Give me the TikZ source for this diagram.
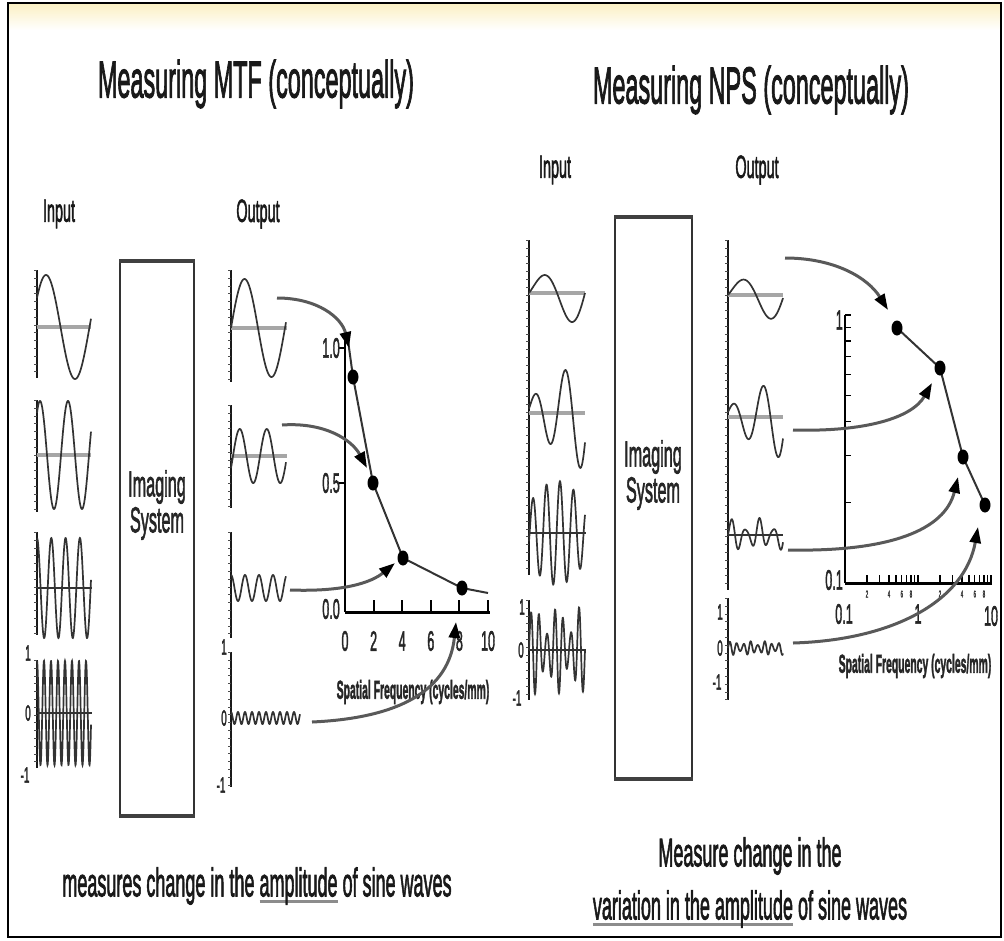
\documentclass[tikz,border=0pt]{standalone}
\usepackage{fontspec}
\setmainfont{Liberation Sans}[FakeBold=2.5]
\usetikzlibrary{arrows.meta,shapes.geometric}
\newcommand{\nar}[2][0.45]{\scalebox{#1}[1]{#2}}
\newsavebox{\ulbox}
\newcommand{\ulg}[1]{\sbox{\ulbox}{#1}\rlap{\textcolor{black!45}{\rule[-7pt]{\wd\ulbox}{3pt}}}\usebox{\ulbox}}
\definecolor{band}{HTML}{FBF0C4}
\tikzset{
  wave/.style={draw=black!80, line width=1.7pt},
  midband/.style={draw=black!35, line width=4pt},
  midline/.style={draw=black!80, line width=1.5pt},
  wax/.style={draw=black!90, line width=1.6pt},
  wtick/.style={draw=black!70, line width=3pt, dash pattern=on 0.8pt off 7pt},
  feed/.style={draw=black!65, line width=3pt, -{Triangle[length=16pt,width=11pt,color=black]}},
  datapt/.style={ellipse, fill=black, inner sep=0pt, minimum width=11pt, minimum height=15pt},
}
\begin{document}
\begin{tikzpicture}[
  x=1pt,y=-1pt,
  head/.style={font=\fontsize{52}{60}\selectfont, text=black!90, inner sep=0pt},
  io/.style={font=\fontsize{32}{36}\selectfont, text=black!90, inner sep=0pt},
  systxt/.style={font=\fontsize{36}{36}\selectfont, text=black!85, align=center, inner sep=0pt},
  note/.style={font=\fontsize{40}{44}\selectfont, text=black!90, inner sep=0pt},
  num/.style={font=\fontsize{28}{30}\selectfont, text=black!85, inner sep=0pt},
  wlab/.style={font=\fontsize{22}{24}\selectfont, text=black!85, inner sep=0pt},
  tinylab/.style={font=\fontsize{10}{11}\selectfont, text=black!80, inner sep=0pt},
  freq/.style={font=\bfseries\fontsize{26}{28}\selectfont, text=black!85, inner sep=0pt},
  sysbox/.style={draw=black!80, line width=1.5pt, inner sep=0pt},
  pax/.style={draw=black, line width=2pt}
]
  \useasboundingbox (0,0) rectangle (1004,940);
  \shade[top color=band, bottom color=white] (9,4) rectangle (1000,30);
  \draw[line width=2.5pt] (8,3) rectangle (1001,937);

  % ---------- MTF side ----------
  \node[head] (mtfhead) at (256,84) {\nar{Measuring MTF (conceptually)}};
  \node[io] (mtfin) at (59,214) {\nar{Input}};
  \node[io] (mtfout) at (258,214) {\nar{Output}};

  % input waves
  \foreach \t/\b in {270/378, 400/512, 532/635, 660/768}{
    \draw[wax] (37,\t) -- (37,\b);
    \draw[wtick] (35,\t) -- (35,\b);
  }
  \draw[midband] (37,327) -- (91,327);
  \draw[midband] (37,455) -- (91,455);
  \draw[midline] (37,588) -- (92,588);
  \draw[midline] (37,713) -- (92,713);
  \draw[wave] plot[domain=0:54, samples=120] ({37+\x},{327-52*sin(6.207*\x+34)});
  \draw[wave] plot[domain=0:54, samples=150] ({37+\x},{455-54*cos(12.857*(\x-3))});
  \draw[wave] plot[domain=0:54, samples=200] ({37+\x},{588-50*cos(25.175*\x)});
  \draw[wave] plot[domain=0:54, samples=300] ({37+\x},{713-52*cos(51.43*\x)});
  \node[wlab] (li1) at (28,653) {\nar{1}};
  \node[wlab] (li0) at (28,713) {\nar{0}};
  \node[wlab] (lim) at (25,775) {\nar{-1}};

  % imaging system
  \node[sysbox, minimum width=74pt, minimum height=553pt] (sysL) at (157,538.5) {};
  \draw[line width=4pt, black!75] (sysL.north west) -- (sysL.north east);
  \draw[line width=4pt, black!75] (sysL.south west) -- (sysL.south east);
  \node[systxt] (sysLtxt) at (157,505) {\nar{Imaging}\\\nar{System}};

  % output waves
  \foreach \t/\b in {270/382, 405/508, 532/638, 652/787}{
    \draw[wax] (231,\t) -- (231,\b);
    \draw[wtick] (229,\t) -- (229,\b);
  }
  \draw[midband] (231,328) -- (287,328);
  \draw[midband] (231,456) -- (287,456);
  \draw[wave] plot[domain=0:55, samples=120] ({231+\x},{328-49*sin(6.667*\x)});
  \draw[wave] plot[domain=0:55, samples=150] ({231+\x},{456-27*sin(13.333*(\x-2))});
  \draw[wave] plot[domain=0:55, samples=200] ({231+\x},{588-13*cos(25.714*\x)});
  \draw[wave] plot[domain=0:69, samples=300] ({231+\x},{718-6*cos(51.43*\x)});
  \node[wlab] (lo1) at (224,647) {\nar{1}};
  \node[wlab] (lo0) at (224,718) {\nar{0}};
  \node[wlab] (lom) at (221,785) {\nar{-1}};

  % MTF plot
  \draw[pax] (345,332) -- (345,612);
  \draw[pax, line width=3pt] (345,612) -- (490,612);
  \foreach \k [count=\i from 0] in {0,2,4,6,8,10}{
    \draw[pax] ({345+14.3*\k},612) -- ++(0,-12);
    \node[num] (mx\i) at ({345+14.3*\k},641) {\nar{\k}};
  }
  \draw[pax] (345,348) -- ++(-6,0);
  \draw[pax] (345,483) -- ++(-6,0);
  \node[num, anchor=east] (my1) at (340,348) {\nar{1.0}};
  \node[num, anchor=east] (my5) at (340,483) {\nar{0.5}};
  \node[num, anchor=east] (my0) at (340,609) {\nar{0.0}};
  \node[freq] (mfreq) at (413,692) {\nar[0.4]{Spatial Frequency (cycles/mm)}};
  \draw[draw=black!80, line width=2pt] (347,333) -- (353,377) -- (373,483) -- (403,558) -- (462,588) -- (488,593);
  \node[datapt] (m1) at (353,377) {};
  \node[datapt] (m2) at (373,483) {};
  \node[datapt] (m3) at (403,558) {};
  \node[datapt] (m4) at (462,588) {};

  \coordinate (a1s) at (277,298);
  \coordinate (a1e) at (349,348);
  \coordinate (a2s) at (282,425);
  \coordinate (a2e) at (367,468);
  \coordinate (a3s) at (290,590);
  \coordinate (a3e) at (395,563);
  \coordinate (a4s) at (312,722);
  \coordinate (a4e) at (456,622);
  \draw[feed] (a1s) .. controls (318,298) and (342,318) .. (a1e);
  \draw[feed] (a2s) .. controls (325,422) and (352,440) .. (a2e);
  \draw[feed] (a3s) .. controls (345,592) and (372,582) .. (a3e);
  \draw[feed] (a4s) .. controls (400,718) and (449,690) .. (a4e);

  \node[note] (mtfnote) at (257,886) {\nar{measures change in the \ulg{amplitude} of sine waves}};

  % ---------- NPS side ----------
  \node[head] (npshead) at (751,90) {\nar{Measuring NPS (conceptually)}};
  \node[io] (npsin) at (555,170) {\nar{Input}};
  \node[io] (npsout) at (757,170) {\nar{Output}};

  % input noise
  \draw[wax] (529,240) -- (529,575);
  \draw[wtick] (527,240) -- (527,575);
  \draw[wax] (529,600) -- (529,700);
  \draw[wtick] (527,600) -- (527,700);
  \draw[midband] (529,293) -- (585,293);
  \draw[midband] (529,413) -- (585,413);
  \draw[midline] (529,533) -- (586,533);
  \draw[midline] (529,650) -- (586,650);
  \draw[wave] plot[domain=0:56, samples=120] ({529+\x},{293-(12+0.4*\x)*sin(6.429*\x)});
  \draw[wave] plot[domain=0:56, samples=150] ({529+\x},{413-(14+0.8*\x)*sin(12*(\x+1.5))});
  \draw[wave] plot[domain=0:56, samples=200] ({529+\x},{533-(30+22*sin(3.214*\x))*sin(26.667*(\x-0.6))});
  \draw[wave] plot[domain=0:56, samples=300] ({529+\x},{650-(30+14*sin(15.652*\x))*sin(45*\x)});
  \node[wlab] (ri1) at (522,607) {\nar{1}};
  \node[wlab] (ri0) at (521,650) {\nar{0}};
  \node[wlab] (rim) at (517,698) {\nar{-1}};

  % imaging system
  \node[sysbox, minimum width=77pt, minimum height=560pt] (sysR) at (653.5,498) {};
  \draw[line width=4pt, black!75] (sysR.north west) -- (sysR.north east);
  \draw[line width=4pt, black!75] (sysR.south west) -- (sysR.south east);
  \node[systxt] (sysRtxt) at (653,475) {\nar{Imaging}\\\nar{System}};

  % output noise
  \draw[wax] (728,240) -- (728,590);
  \draw[wtick] (726,240) -- (726,590);
  \draw[wax] (728,598) -- (728,700);
  \draw[wtick] (726,598) -- (726,700);
  \draw[midband] (728,295) -- (783,295);
  \draw[midband] (728,417) -- (783,417);
  \draw[midline] (728,535) -- (783,535);
  \draw[wave] plot[domain=0:55, samples=120] ({728+\x},{295-(11+0.3*\x)*sin(6.429*\x)});
  \draw[wave] plot[domain=0:55, samples=150] ({728+\x},{417-(10+0.6*\x)*sin(12*(\x+2.5))});
  \draw[wave] plot[domain=0:55, samples=200] ({728+\x},{535-(11+6*sin(14.4*\x))*sin(25.714*\x)});
  \draw[wave] plot[domain=0:55, samples=300] ({728+\x},{648-(5+2*sin(21.18*\x))*sin(51.43*\x)});
  \node[wlab] (ro1) at (720,612) {\nar{1}};
  \node[wlab] (ro0) at (720,648) {\nar{0}};
  \node[wlab] (rom) at (717,682) {\nar{-1}};

  % NPS plot, log-log
  \draw[pax] (845,315) -- (845,583);
  \draw[pax, line width=3pt] (845,583) -- (992,583);
  \foreach \k in {1,...,10}{
    \draw[pax, line width=1.2pt] (845,{583-268*log10(\k)}) -- ++(6,0);
    \draw[pax, line width=1.2pt] ({845+73*log10(\k)},583) -- ++(0,-8);
    \draw[pax, line width=1.2pt] ({918+73*log10(\k)},583) -- ++(0,-8);
  }
  \foreach \k in {2,4,6,8}{
    \node[tinylab] (lga\k) at ({845+73*log10(\k)},594) {\nar{\k}};
    \node[tinylab] (lgb\k) at ({918+73*log10(\k)},594) {\nar{\k}};
  }
  \node[num, anchor=east] (ny1) at (843,320) {\nar{1}};
  \node[num, anchor=east] (ny0) at (843,580) {\nar{0.1}};
  \node[num] (nx0) at (844,614) {\nar{0.1}};
  \node[num] (nx1) at (918,614) {\nar{1}};
  \node[num] (nx2) at (991,616) {\nar{10}};
  \node[freq] (nfreq) at (915,666) {\nar[0.4]{Spatial Frequency (cycles/mm)}};
  \draw[draw=black!80, line width=2pt] (897,328) -- (940,368) -- (963,457) -- (985,505);
  \node[datapt] (n1) at (897,328) {};
  \node[datapt] (n2) at (940,368) {};
  \node[datapt] (n3) at (963,457) {};
  \node[datapt] (n4) at (985,505) {};

  \coordinate (b1s) at (785,258);
  \coordinate (b1e) at (888,310);
  \coordinate (b2s) at (793,430);
  \coordinate (b2e) at (932,383);
  \coordinate (b3s) at (788,550);
  \coordinate (b3e) at (958,477);
  \coordinate (b4s) at (793,643);
  \coordinate (b4e) at (978,527);
  \draw[feed] (b1s) .. controls (835,258) and (868,278) .. (b1e);
  \draw[feed] (b2s) .. controls (865,432) and (912,418) .. (b2e);
  \draw[feed] (b3s) .. controls (890,552) and (945,530) .. (b3e);
  \draw[feed] (b4s) .. controls (895,640) and (965,600) .. (b4e);

  \node[note] (npsnote1) at (750,856) {\nar{Measure change in the}};
  \node[note] (npsnote2) at (750,909) {\nar{\ulg{variation in the amplitude} of sine waves}};
\end{tikzpicture}
\end{document}
